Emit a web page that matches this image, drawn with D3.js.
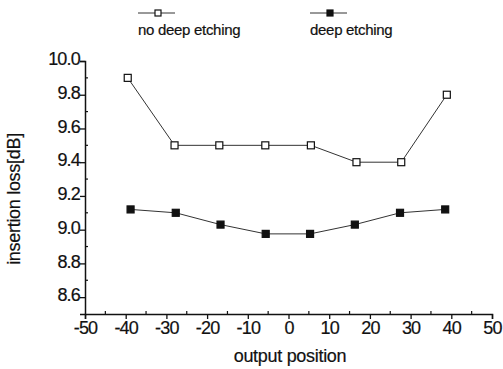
<!DOCTYPE html>
<html>
<head>
<meta charset="utf-8">
<script src="https://cdn.jsdelivr.net/npm/d3@7"></script>
<style>
body { margin: 0; background: #fff; }
text { font-family: "Liberation Sans", Arial, sans-serif; fill: #111; stroke: #111; stroke-width: 0.2px; }
</style>
</head>
<body>
<script>
var w = 503;
var h = 369;

var xNoDeep = [-39.5, -28, -17, -5.7, 5.5, 16.7, 27.7, 38.9];
var yNoDeep = [9.9, 9.5, 9.5, 9.5, 9.5, 9.4, 9.4, 9.8];
var xDeep = [-38.8, -27.7, -16.7, -5.6, 5.3, 16.3, 27.4, 38.5];
var yDeep = [9.12, 9.10, 9.03, 8.975, 8.975, 9.03, 9.10, 9.12];
var xTicks = [-50, -40, -30, -20, -10, 0, 10, 20, 30, 40, 50];
var yTicks = [8.6, 8.8, 9.0, 9.2, 9.4, 9.6, 9.8, 10.0];
var seriesNames = ["no deep etching", "deep etching"];

var svg = d3.select("body")
    .append("svg")
    .attr("width", w)
    .attr("height", h);

var xScale = d3.scaleLinear().domain([-50, 50]).range([85, 492]);
var yScale = d3.scaleLinear().domain([8.5, 10.0]).range([314, 61]);

// minor ticks, pointing inwards
var xMinor = d3.range(-45, 50, 10);
var yMinor = [8.7, 8.9, 9.1, 9.3, 9.5, 9.7, 9.9];

var xAxis = d3.axisBottom(xScale).tickValues(xTicks).tickFormat(d => String(d)).tickSizeOuter(0).tickSize(5);
var yAxis = d3.axisLeft(yScale).tickValues(yTicks).tickFormat(d3.format(".1f")).tickSizeOuter(0).tickSize(5);

var gx = svg.append("g")
    .attr("transform", "translate(0," + yScale(8.5) + ")")
    .call(xAxis);
gx.select(".domain").attr("stroke", "#111").attr("stroke-width", 1.5);
gx.selectAll(".tick line").attr("stroke", "#111").attr("stroke-width", 1.3);
gx.selectAll(".tick text")
    .attr("font-size", "18px")
    .attr("letter-spacing", "-0.8px")
    .attr("font-family", "Liberation Sans, Arial, sans-serif")
    .attr("fill", "#111")
    .attr("y", 4)
    .attr("dy", "0.9em");

var gy = svg.append("g")
    .attr("transform", "translate(" + xScale(-50) + ",0)")
    .call(yAxis);
gy.select(".domain").attr("stroke", "#111").attr("stroke-width", 1.5);
gy.selectAll(".tick line").attr("stroke", "#111").attr("stroke-width", 1.3);
gy.selectAll(".tick text")
    .attr("font-size", "18px")
    .attr("letter-spacing", "-0.8px")
    .attr("font-family", "Liberation Sans, Arial, sans-serif")
    .attr("fill", "#111")
    .attr("x", -5)
    .attr("dy", "0.2em");

svg.append("g").selectAll("line")
    .data(xMinor)
    .join("line")
    .attr("x1", d => xScale(d)).attr("x2", d => xScale(d))
    .attr("y1", yScale(8.5)).attr("y2", yScale(8.5) - 3)
    .attr("stroke", "#111").attr("stroke-width", 1.2);

svg.append("g").selectAll("line")
    .data(yMinor)
    .join("line")
    .attr("x1", xScale(-50)).attr("x2", xScale(-50) + 3)
    .attr("y1", d => yScale(d)).attr("y2", d => yScale(d))
    .attr("stroke", "#111").attr("stroke-width", 1.2);

var line = d3.line();

function drawSeries(xs, ys, filled) {
    var pts = xs.map((x, i) => [xScale(x), yScale(ys[i])]);
    svg.append("path")
        .attr("d", line(pts))
        .attr("fill", "none")
        .attr("stroke", "#333")
        .attr("stroke-width", 1);
    svg.append("g").selectAll("rect")
        .data(pts)
        .join("rect")
        .attr("x", d => d[0] - 3.5)
        .attr("y", d => d[1] - 3.5)
        .attr("width", 7)
        .attr("height", 7)
        .attr("fill", filled ? "#111" : "#fff")
        .attr("stroke", "#111")
        .attr("stroke-width", 1.2);
}

drawSeries(xNoDeep, yNoDeep, false);
drawSeries(xDeep, yDeep, true);

// legend
var legendX = [138, 310];
seriesNames.forEach(function (name, i) {
    var lx = legendX[i];
    svg.append("line")
        .attr("x1", lx).attr("x2", lx + 37)
        .attr("y1", 13).attr("y2", 13)
        .attr("stroke", "#333").attr("stroke-width", 1);
    svg.append("rect")
        .attr("x", lx + 17).attr("y", 10)
        .attr("width", 6).attr("height", 6)
        .attr("fill", i == 1 ? "#111" : "#fff")
        .attr("stroke", "#111").attr("stroke-width", 1.2);
    svg.append("text")
        .attr("x", lx).attr("y", 35)
        .attr("font-size", "15px")
        .attr("letter-spacing", "-0.3px")
        .text(name);
});

svg.append("text")
    .attr("x", 290).attr("y", 362)
    .attr("text-anchor", "middle")
    .attr("font-size", "18px")
    .attr("letter-spacing", "-0.3px")
    .text("output position");

svg.append("text")
    .attr("transform", "translate(20,199) rotate(-90)")
    .attr("text-anchor", "middle")
    .attr("font-size", "18px")
    .attr("letter-spacing", "-0.3px")
    .text("insertion loss[dB]");
</script>
</body>
</html>
